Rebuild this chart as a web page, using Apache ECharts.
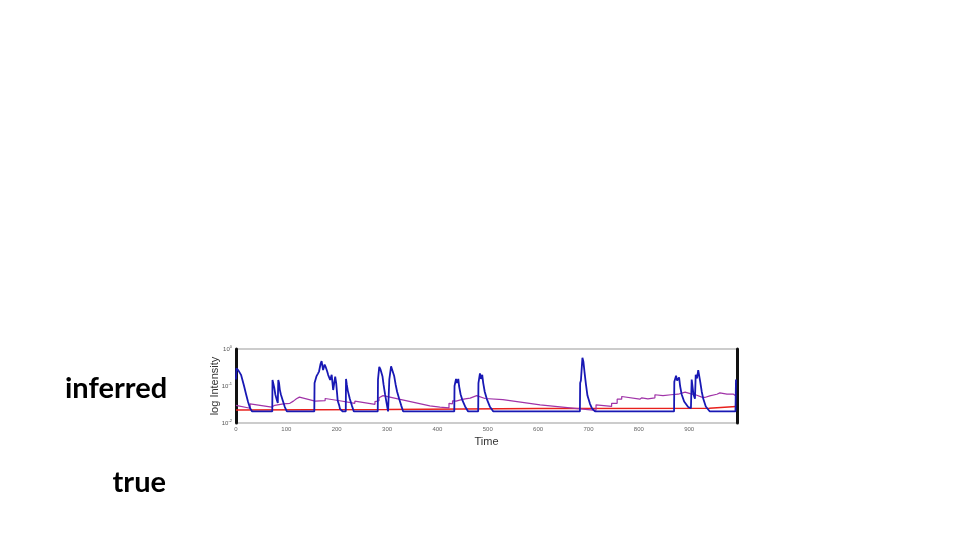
<!DOCTYPE html>
<html>
<head>
<meta charset="utf-8">
<script src="https://cdn.jsdelivr.net/npm/echarts@6/dist/echarts.min.js"></script>
<style>
html,body{margin:0;padding:0;background:#fff;}
#c{width:960px;height:540px;}
</style>
</head>
<body>
<div id="c"></div>
<script>
// ---- data (time, intensity) ----
const inferredBlue = [
  [0,0.15],[1,0.30],[3,0.33],[5,0.26],[8,0.24],[10,0.20],[12,0.16],[16,0.10],[20,0.06],[24,0.037],[28,0.025],[32,0.0205],
  [72,0.0205],[72.5,0.145],[74.5,0.13],[76,0.09],[78,0.06],[81.5,0.04],[83,0.035],[84,0.145],[85.5,0.12],[87,0.08],[89,0.06],[93,0.04],[97,0.027],[101,0.0205],
  [155.5,0.0205],[156,0.12],[160,0.185],[163,0.22],[165,0.25],[168,0.40],[170,0.47],[172,0.45],[173,0.27],[176,0.38],[178,0.33],[181,0.25],[183,0.20],[187,0.145],[190,0.20],[193,0.078],[197,0.18],[199,0.12],[202,0.04],[205,0.03],[206.5,0.024],[212,0.0205],
  [218,0.0205],[218.5,0.155],[220,0.11],[222,0.075],[226,0.045],[230,0.03],[234,0.0205],
  [281.5,0.0205],[282,0.15],[284.5,0.33],[287,0.28],[289,0.30],[291,0.18],[293,0.11],[296,0.06],[299,0.035],[302,0.0205],
  [304.5,0.15],[308,0.34],[310,0.28],[312,0.30],[314,0.19],[317,0.11],[320,0.07],[324,0.045],[328,0.03],[332,0.0205],
  [433.5,0.0205],[434,0.10],[437,0.155],[439,0.12],[441.5,0.155],[443,0.10],[446,0.06],[450,0.04],[455,0.028],[461,0.0205],
  [481,0.0205],[481.5,0.12],[484.5,0.22],[486.5,0.155],[489,0.20],[491,0.12],[494,0.07],[498,0.045],[504,0.028],[511,0.0205],
  [683,0.0205],[683.5,0.12],[685,0.14],[688,0.58],[690,0.45],[692,0.25],[695,0.11],[698,0.055],[703,0.033],[707,0.025],[713,0.0205],
  [870,0.0205],[870.5,0.13],[874,0.19],[876,0.14],[880,0.17],[882,0.10],[885,0.06],[890,0.038],[898,0.027],[903.5,0.025],
  [905,0.15],[906.5,0.145],[908.5,0.06],[911.5,0.045],[913,0.20],[915.5,0.16],[918,0.27],[920,0.25],[922,0.13],[925,0.07],[928,0.045],[933,0.028],[941,0.0205],
  [992,0.0205],[993,0.15]
];
const inferredPurple = [
  [0,0.030],[28,0.025],[28,0.033],[71,0.027],[77,0.030],[94,0.033],[107,0.034],[107,0.038],[114,0.039],[114,0.044],[120,0.045],[120,0.050],[126,0.050],
  [157,0.039],[157,0.042],[177,0.040],[177,0.046],[206,0.040],[236,0.034],[236,0.039],[276,0.032],[276,0.038],[284,0.040],[284,0.048],[292,0.055],
  [385,0.029],[405,0.027],[423,0.0255],[423,0.034],[430,0.033],[430,0.040],[437,0.039],[437,0.044],[448,0.043],[448,0.046],[455,0.045],[455,0.048],[465,0.047],[465,0.052],[478,0.055],
  [494.5,0.046],[494.5,0.049],[530,0.043],[530,0.046],[604,0.031],[683,0.024],[715,0.022],[715,0.031],[746,0.028],[746,0.034],[757,0.034],[757,0.044],[766,0.044],[766,0.052],[769,0.053],
  [802,0.044],[806,0.048],[818,0.045],[818,0.050],[832,0.048],[832,0.058],[848,0.055],[848,0.062],[864,0.058],[864,0.065],[878,0.060],[892,0.068],
  [902,0.062],[914,0.057],[925,0.050],[931,0.049],[941,0.054],[955,0.060],[961,0.065],[975,0.060],[988,0.060],[993,0.054]
];
const trueRed = [[0,0.0225],[300,0.023],[600,0.0245],[940,0.0252],[941,0.028],[993,0.028]];
const xTicks = [0,100,200,300,400,500,600,700,800,900];
const rowLabels = ['inferred','true'];

const chart = echarts.init(document.getElementById('c'), null, {renderer:'canvas'});
chart.setOption({
  animation:false,
  backgroundColor:'#fff',
  grid:{left:236,right:223,top:349,bottom:117,show:true,borderColor:'#999',borderWidth:1,backgroundColor:'#fff'},
  xAxis:{type:'value',min:0,max:995,interval:100,
    axisLine:{show:false},axisTick:{show:false},splitLine:{show:false},
    axisLabel:{fontSize:6,color:'#666',margin:3,showMaxLabel:false,
      formatter:v=>xTicks.indexOf(v)>=0?String(v):''},
    name:'Time',nameLocation:'middle',nameGap:13,nameMoveOverlap:false,nameTextStyle:{fontSize:11,color:'#333',fontFamily:'Liberation Sans'}},
  yAxis:[{type:'log',logBase:10,min:0.01,max:1,
    axisLine:{show:true,lineStyle:{color:'#111',width:3}},axisTick:{show:false},splitLine:{show:false},
    axisLabel:{margin:4,formatter:v=>{const e=Math.round(Math.log10(v));return '{b|10}{s|'+e+'}';},
      rich:{b:{fontSize:6,color:'#555'},s:{fontSize:4,color:'#555',verticalAlign:'top',padding:[0,0,4,0]}}},
    name:'log Intensity',nameLocation:'middle',nameGap:16,nameRotate:90,nameMoveOverlap:false,nameTextStyle:{fontSize:11,color:'#333',fontFamily:'Liberation Sans'}},
   {type:'log',logBase:10,min:0.01,max:1,position:'right',
    axisLine:{show:true,lineStyle:{color:'#111',width:3}},axisTick:{show:false},axisLabel:{show:false},splitLine:{show:false}}],
  series:[
    {type:'line',data:trueRed,showSymbol:false,lineStyle:{color:'#e8201c',width:1.5},z:3},
    {type:'line',data:inferredPurple,showSymbol:false,lineStyle:{color:'#a033a8',width:1.2},z:4},
    {type:'line',data:inferredBlue,showSymbol:false,lineStyle:{color:'#1818b4',width:1.8},z:5}
  ],
  graphic:[
    {type:'text',left:65,top:374,style:{text:rowLabels[0],font:'bold 29px Lato',fill:'#000'}},
    {type:'text',right:794,top:468,style:{text:rowLabels[1],font:'bold 29px Lato',fill:'#000',textAlign:'right'}}
  ]
});
</script>
</body>
</html>
